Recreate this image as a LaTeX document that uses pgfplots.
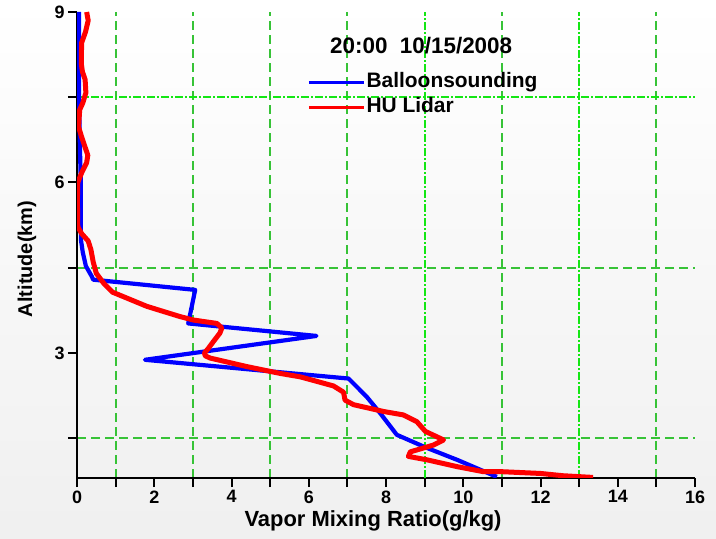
\documentclass[border=0pt]{standalone}
\usepackage{fontspec}
\setmainfont{Liberation Sans}
\usepackage{pgfplots}
\pgfplotsset{compat=1.18}
\definecolor{gridgreen}{RGB}{55,195,55}
\definecolor{brightgreen}{RGB}{20,230,20}
\begin{document}
\begin{tikzpicture}
\path[use as bounding box] (0,0) rectangle (716bp,539bp);
\shade[top color=white, bottom color=black!6] (0,0) rectangle (716bp,539bp);
\begin{axis}[
  at={(77bp,61bp)}, anchor=south west,
  scale only axis, width=618bp, height=466bp,
  xmin=0, xmax=16, ymin=0.8, ymax=9,
  axis lines*=left,
  axis line style={line width=2.5bp, black},
  xtick={0,2,...,16},
  minor xtick={1,3,5,7,11,15},
  extra x ticks={9,13}, extra x tick labels={},
  extra x tick style={grid=major, major grid style={brightgreen, line width=2bp, dash pattern=on 8bp off 2bp on 2bp off 2bp}},
  ytick={3,6,9},
  minor ytick={1.5,4.5},
  extra y ticks={7.5}, extra y tick labels={},
  extra y tick style={grid=major, major grid style={brightgreen, line width=2bp, dash pattern=on 8bp off 2bp on 2bp off 2bp}},
  grid=minor,
  minor grid style={draw=gridgreen, line width=2bp, dash pattern=on 9bp off 5bp},
  tick align=outside,
  major tick length=9bp, minor tick length=9bp,
  tick style={black, line width=2bp},
  /pgf/number format/assume math mode=true,
  tick label style={font=\fontsize{18}{20}\selectfont\bfseries},
  xlabel={Vapor Mixing Ratio(g/kg)},
  ylabel={Altitude(km)},
  xlabel style={font=\fontsize{22}{24}\selectfont\bfseries, at={(axis description cs:0.479,-0.092)}, anchor=center},
  ylabel style={font=\fontsize{20}{22}\selectfont\bfseries, at={(axis description cs:-0.081,0.47)}, anchor=center},
  legend style={at={(rel axis cs:0.372,0.872)}, anchor=north west, draw=none, fill=none,
    inner sep=0pt, font=\fontsize{21}{23}\selectfont\bfseries, row sep=4bp,
    nodes={inner sep=1bp, text height=15bp, text depth=4bp}},
  legend cell align=left,
  legend image code/.code={\draw[#1, line width=3.5bp] (0bp,0bp) -- (55bp,0bp);},
]
\addplot[blue, line width=4.2bp, line join=round] coordinates {
(0.05,9.0) (0.05,7.5) (0.08,6.5) (0.10,6.0) (0.10,5.0) (0.15,4.77) (0.23,4.53) (0.38,4.35) (0.42,4.29)
(3.06,4.11) (2.88,3.52) (6.20,3.30) (1.76,2.88) (7.03,2.55) (7.50,2.23) (7.85,1.94) (8.28,1.56)
(9.02,1.34) (9.84,1.12) (10.87,0.82)
};
\addlegendentry{Balloonsounding}
\addplot[red, line width=5bp, line join=round] coordinates {
(0.25,9.0) (0.29,8.85) (0.22,8.65) (0.12,8.46) (0.11,8.1) (0.14,7.95) (0.21,7.81) (0.23,7.58)
(0.15,7.4) (0.07,7.28) (0.04,6.98) (0.12,6.8) (0.22,6.6) (0.28,6.48) (0.25,6.35) (0.12,6.17)
(0.02,6.0) (0.01,5.69) (0.02,5.22) (0.12,5.1) (0.29,4.97) (0.36,4.82) (0.42,4.6) (0.50,4.4)
(0.70,4.22) (0.92,4.07) (1.81,3.82) (2.67,3.64) (3.01,3.58) (3.62,3.52) (3.75,3.44) (3.70,3.35)
(3.53,3.20) (3.40,3.08) (3.30,3.00) (3.32,2.95) (3.45,2.91) (4.40,2.76) (5.26,2.64) (5.78,2.58)
(6.64,2.42) (6.90,2.31) (6.94,2.17) (7.16,2.09) (7.94,1.97) (8.45,1.91) (8.80,1.79) (9.02,1.62)
(9.49,1.47) (9.23,1.38) (8.63,1.26) (8.58,1.18) (9.06,1.12) (9.84,1.0) (10.53,0.91) (11.03,0.91)
(12.0,0.88) (12.58,0.84) (13.36,0.81)
};
\addlegendentry{HU Lidar}
\node[anchor=base west, font=\fontsize{22.5}{24}\selectfont\bfseries] at (rel axis cs:0.404,0.91) {20:00\ \ 10/15/2008};
\end{axis}
\end{tikzpicture}
\end{document}
